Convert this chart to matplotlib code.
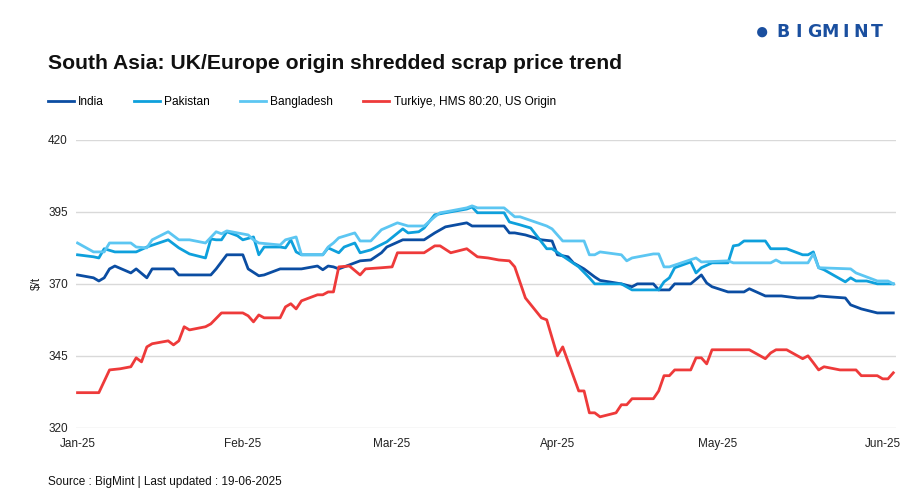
import matplotlib
matplotlib.use("Agg")
import matplotlib.pyplot as plt
import matplotlib.dates as mdates
import pandas as pd

# prices in $/t
india_dates = ['2025-01-01', '2025-01-04', '2025-01-05', '2025-01-06', '2025-01-07', '2025-01-08',
               '2025-01-11', '2025-01-12', '2025-01-14', '2025-01-15', '2025-01-19', '2025-01-20',
               '2025-01-26', '2025-01-27', '2025-01-29', '2025-02-01', '2025-02-02', '2025-02-04',
               '2025-02-05', '2025-02-08', '2025-02-12', '2025-02-15', '2025-02-16', '2025-02-17',
               '2025-02-18', '2025-02-19', '2025-02-22', '2025-02-23', '2025-02-25', '2025-02-27',
               '2025-02-28', '2025-03-03', '2025-03-07', '2025-03-09', '2025-03-11', '2025-03-13',
               '2025-03-15', '2025-03-16', '2025-03-22', '2025-03-23', '2025-03-24', '2025-03-26',
               '2025-03-29', '2025-03-31', '2025-04-01', '2025-04-03', '2025-04-04', '2025-04-06',
               '2025-04-08', '2025-04-09', '2025-04-13', '2025-04-15', '2025-04-16', '2025-04-19',
               '2025-04-20', '2025-04-22', '2025-04-23', '2025-04-26', '2025-04-28', '2025-04-29',
               '2025-04-30', '2025-05-03', '2025-05-06', '2025-05-07', '2025-05-10', '2025-05-13',
               '2025-05-16', '2025-05-19', '2025-05-20', '2025-05-22', '2025-05-25', '2025-05-26',
               '2025-05-28', '2025-05-31', '2025-06-03']
india = [373.1, 372.1, 371.0, 372.1, 375.2, 376.2,
         373.8, 375.2, 372.1, 375.2, 375.2, 373.1,
         373.1, 375.2, 380.1, 380.1, 375.2, 372.8,
         373.1, 375.2, 375.2, 376.2, 374.9, 376.2,
         375.9, 375.2, 377.3, 378.0, 378.3, 380.8,
         382.8, 385.3, 385.3, 387.7, 389.8, 390.5,
         391.2, 390.1, 390.1, 387.7, 387.7, 387.0,
         385.3, 384.9, 380.1, 379.4, 377.3, 375.2,
         372.4, 371.2, 370.0, 369.0, 370.0, 370.0,
         367.9, 367.9, 370.0, 370.0, 373.1, 370.3,
         369.0, 367.2, 367.2, 368.3, 365.8, 365.8,
         365.1, 365.1, 365.8, 365.5, 365.1, 362.7,
         361.3, 359.9, 359.9]

pakistan_dates = ['2025-01-01', '2025-01-04', '2025-01-05', '2025-01-06', '2025-01-08', '2025-01-12',
                  '2025-01-14', '2025-01-18', '2025-01-20', '2025-01-22', '2025-01-25', '2025-01-26',
                  '2025-01-27', '2025-01-28', '2025-01-29', '2025-01-31', '2025-02-01', '2025-02-03',
                  '2025-02-04', '2025-02-05', '2025-02-08', '2025-02-09', '2025-02-10', '2025-02-11',
                  '2025-02-12', '2025-02-16', '2025-02-17', '2025-02-19', '2025-02-20', '2025-02-22',
                  '2025-02-23', '2025-02-25', '2025-02-28', '2025-03-03', '2025-03-04', '2025-03-06',
                  '2025-03-07', '2025-03-09', '2025-03-11', '2025-03-15', '2025-03-16', '2025-03-17',
                  '2025-03-22', '2025-03-23', '2025-03-25', '2025-03-27', '2025-03-30', '2025-03-31',
                  '2025-04-05', '2025-04-07', '2025-04-08', '2025-04-13', '2025-04-15', '2025-04-20',
                  '2025-04-21', '2025-04-22', '2025-04-23', '2025-04-26', '2025-04-27', '2025-04-28',
                  '2025-04-30', '2025-05-03', '2025-05-04', '2025-05-05', '2025-05-06', '2025-05-10',
                  '2025-05-11', '2025-05-14', '2025-05-17', '2025-05-18', '2025-05-19', '2025-05-20',
                  '2025-05-21', '2025-05-25', '2025-05-26', '2025-05-27', '2025-05-29', '2025-05-31',
                  '2025-06-03']
pakistan = [380.1, 379.4, 379.0, 382.2, 381.1, 381.1,
            382.8, 385.3, 382.5, 380.4, 379.0, 385.6,
            385.3, 385.3, 388.1, 386.7, 385.3, 386.3,
            380.1, 382.8, 382.8, 382.5, 385.3, 381.1,
            380.1, 380.1, 382.5, 380.8, 382.8, 384.2,
            380.8, 381.8, 384.6, 389.1, 387.7, 388.1,
            389.4, 394.0, 394.7, 396.0, 396.7, 394.7,
            394.7, 391.5, 390.5, 389.4, 382.2, 382.2,
            375.9, 372.1, 370.0, 370.0, 367.9, 367.9,
            370.7, 372.1, 375.6, 377.6, 373.8, 375.6,
            377.3, 377.3, 383.2, 383.5, 384.9, 384.9,
            382.2, 382.2, 380.1, 380.1, 381.1, 375.6,
            374.9, 370.7, 372.1, 371.0, 371.0, 370.0,
            370.0]

bangla_dates = ['2025-01-01', '2025-01-04', '2025-01-06', '2025-01-07', '2025-01-11', '2025-01-12',
                '2025-01-14', '2025-01-15', '2025-01-18', '2025-01-20', '2025-01-22', '2025-01-25',
                '2025-01-27', '2025-01-28', '2025-01-29', '2025-02-02', '2025-02-03', '2025-02-04',
                '2025-02-08', '2025-02-09', '2025-02-11', '2025-02-12', '2025-02-16', '2025-02-17',
                '2025-02-18', '2025-02-19', '2025-02-22', '2025-02-23', '2025-02-25', '2025-02-27',
                '2025-03-02', '2025-03-04', '2025-03-07', '2025-03-09', '2025-03-10', '2025-03-11',
                '2025-03-15', '2025-03-16', '2025-03-17', '2025-03-22', '2025-03-24', '2025-03-25',
                '2025-03-30', '2025-03-31', '2025-04-02', '2025-04-06', '2025-04-07', '2025-04-08',
                '2025-04-09', '2025-04-13', '2025-04-14', '2025-04-15', '2025-04-19', '2025-04-20',
                '2025-04-21', '2025-04-22', '2025-04-27', '2025-04-28', '2025-05-03', '2025-05-04',
                '2025-05-11', '2025-05-12', '2025-05-13', '2025-05-18', '2025-05-19', '2025-05-20',
                '2025-05-26', '2025-05-27', '2025-05-31', '2025-06-02', '2025-06-03']
bangladesh = [384.2, 381.1, 381.1, 384.2, 384.2, 382.8,
              382.5, 385.3, 388.1, 385.3, 385.3, 384.2,
              388.1, 387.4, 388.4, 387.0, 385.3, 384.2,
              383.5, 385.3, 386.3, 380.1, 380.1, 382.8,
              384.2, 386.0, 387.7, 384.9, 384.9, 388.8,
              391.2, 390.1, 390.1, 393.3, 394.7, 395.0,
              396.4, 397.1, 396.4, 396.4, 393.3, 393.3,
              390.1, 389.1, 384.9, 384.9, 380.1, 380.1,
              381.1, 380.1, 378.0, 379.0, 380.4, 380.4,
              375.9, 375.9, 379.0, 377.6, 378.0, 377.3,
              377.3, 378.3, 377.3, 377.3, 380.4, 375.6,
              375.2, 373.8, 371.0, 371.0, 370.0]

turkiye_dates = ['2025-01-01', '2025-01-05', '2025-01-07', '2025-01-09', '2025-01-11', '2025-01-12',
                 '2025-01-13', '2025-01-14', '2025-01-15', '2025-01-18', '2025-01-19', '2025-01-20',
                 '2025-01-21', '2025-01-22', '2025-01-25', '2025-01-26', '2025-01-28', '2025-02-01',
                 '2025-02-02', '2025-02-03', '2025-02-04', '2025-02-05', '2025-02-08', '2025-02-09',
                 '2025-02-10', '2025-02-11', '2025-02-12', '2025-02-15', '2025-02-16', '2025-02-17',
                 '2025-02-18', '2025-02-19', '2025-02-21', '2025-02-23', '2025-02-24', '2025-02-27',
                 '2025-03-01', '2025-03-02', '2025-03-07', '2025-03-09', '2025-03-10', '2025-03-12',
                 '2025-03-15', '2025-03-17', '2025-03-19', '2025-03-21', '2025-03-23', '2025-03-24',
                 '2025-03-26', '2025-03-29', '2025-03-30', '2025-04-01', '2025-04-02', '2025-04-05',
                 '2025-04-06', '2025-04-07', '2025-04-08', '2025-04-09', '2025-04-12', '2025-04-13',
                 '2025-04-14', '2025-04-15', '2025-04-19', '2025-04-20', '2025-04-21', '2025-04-22',
                 '2025-04-23', '2025-04-26', '2025-04-27', '2025-04-28', '2025-04-29', '2025-04-30',
                 '2025-05-07', '2025-05-10', '2025-05-11', '2025-05-12', '2025-05-14', '2025-05-17',
                 '2025-05-18', '2025-05-19', '2025-05-20', '2025-05-21', '2025-05-24', '2025-05-27',
                 '2025-05-28', '2025-05-31', '2025-06-01', '2025-06-02', '2025-06-03']
turkiye = [332.2, 332.2, 340.1, 340.5, 341.2, 344.3,
           342.9, 348.1, 349.2, 350.2, 348.8, 350.2,
           355.1, 354.0, 355.1, 356.1, 359.9, 359.9,
           358.9, 356.8, 359.2, 358.2, 358.2, 362.0,
           363.1, 361.3, 364.1, 366.2, 366.2, 367.2,
           367.2, 375.9, 376.2, 373.1, 375.2, 375.6,
           375.9, 380.8, 380.8, 383.2, 383.2, 380.8,
           382.2, 379.4, 379.0, 378.3, 378.0, 375.9,
           365.1, 358.2, 357.5, 345.0, 348.1, 332.8,
           332.8, 325.2, 325.2, 323.8, 325.2, 328.0,
           328.0, 330.1, 330.1, 332.8, 338.1, 338.1,
           340.1, 340.1, 344.3, 344.3, 342.2, 347.1,
           347.1, 344.0, 346.0, 347.1, 347.1, 344.0,
           345.0, 342.6, 340.1, 341.2, 340.1, 340.1,
           338.1, 338.1, 337.0, 337.0, 339.1]

series = [
    ("India", india_dates, india, '#0b4da2'),
    ("Pakistan", pakistan_dates, pakistan, '#0ea0dc'),
    ("Bangladesh", bangla_dates, bangladesh, '#5cc6f2'),
    ("Turkiye, HMS 80:20, US Origin", turkiye_dates, turkiye, '#ee3a3a'),
]
yticks = [320, 345, 370, 395, 420]

plt.rcParams['font.family'] = ['Liberation Sans', 'DejaVu Sans']

fig = plt.figure(figsize=(9.18, 4.98), dpi=100)
ax = fig.add_axes([0.083, 0.141, 0.893, 0.578])

for name, d, v, c in series:
    ax.plot(pd.to_datetime(d), v, color=c, lw=2.0, label=name, solid_joinstyle='round')

ax.set_ylim(320, 420)
ax.set_yticks(yticks)
ax.set_xlim(pd.Timestamp('2024-12-31 18:00'), pd.Timestamp('2025-06-03 12:00'))
ax.xaxis.set_major_locator(mdates.MonthLocator())
ax.xaxis.set_major_formatter(mdates.DateFormatter('%b-%y'))
ax.grid(axis='y', color='#d9d9d9', lw=1)
ax.set_axisbelow(True)
for s in ax.spines.values():
    s.set_visible(False)
ax.tick_params(length=0, labelsize=8.5, colors='#222222')
ax.tick_params(axis='y', pad=6)
ax.tick_params(axis='x', pad=7)
ax.set_ylabel("$/t", fontsize=8.5, color='#222222', labelpad=4)

# title, legend, footer
fig.text(0.052, 0.872, "South Asia: UK/Europe origin shredded scrap price trend",
         fontsize=15.2, fontweight='bold', color='#111111', va='center')
fig.legend(loc='center left', bbox_to_anchor=(0.052, 0.795), ncol=4, frameon=False,
           fontsize=8.6, handlelength=2.2, handletextpad=0.35, columnspacing=2.5,
           borderaxespad=0, borderpad=0)
fig.text(0.052, 0.032, "Source : BigMint | Last updated : 19-06-2025", fontsize=8.5,
         color='#111111', va='center')

# logo
fig.text(762 / 918, 0.935, "\u25CF", fontsize=17, color='#1a4f9f', va='center', ha='center')
for i, ch in enumerate("BIGMINT"):
    fig.text((783 + i * 15.6) / 918, 0.935, ch, fontsize=12.5, fontweight='bold',
             color='#1a4f9f', va='center', ha='center', family='DejaVu Sans')

plt.savefig("out.png", dpi=100)
